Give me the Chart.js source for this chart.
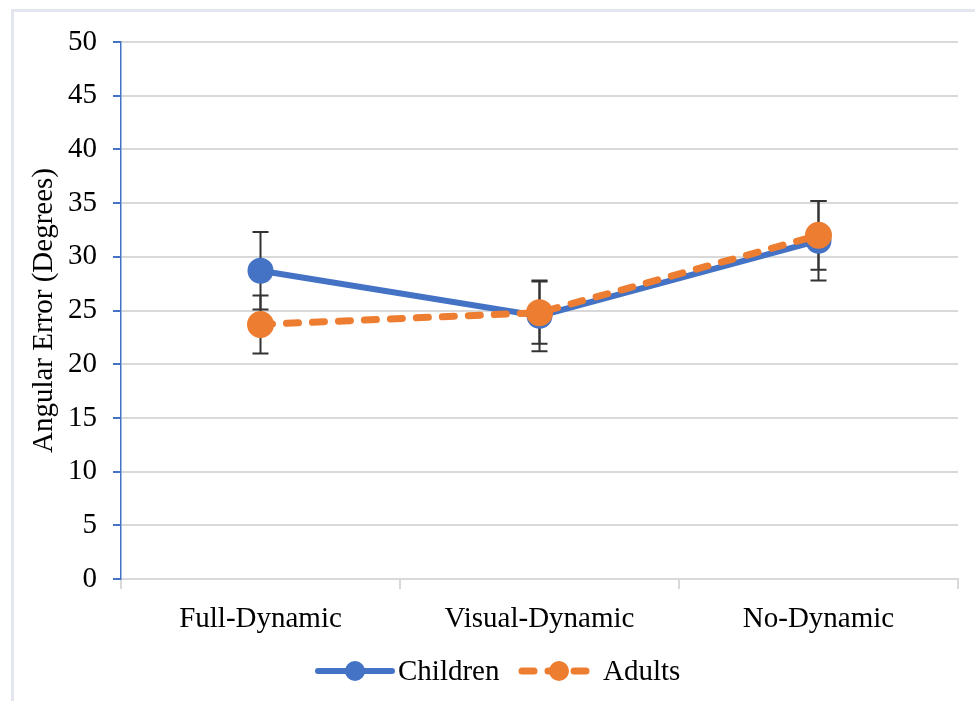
<!DOCTYPE html>
<html>
<head>
<meta charset="utf-8">
<script src="https://cdn.jsdelivr.net/npm/chart.js@4"></script>
<style>
    body { margin: 0; background: #fff; }
    #frame { position: absolute; left: 11px; top: 9px; width: 980px; height: 700px; border-top: 3px solid #e4e6ef; border-left: 3px solid #e4e6ef; }
    #wrap { position: absolute; left: 0; top: 0; width: 975px; height: 701px; }
</style>
</head>
<body>
<div id="frame"></div>
<div id="wrap"><canvas id="chart"></canvas></div>
<script>
// 数据
const categories = ['Full-Dynamic', 'Visual-Dynamic', 'No-Dynamic'];
const children = [28.7, 24.5, 31.5];
const childrenErr = [3.6, 3.3, 3.7];
const adults = [23.7, 24.8, 32.0];
const adultsErr = [2.7, 2.9, 3.2];
const yTicks = [0, 5, 10, 15, 20, 25, 30, 35, 40, 45, 50];

const serif = "'Liberation Serif', 'Times New Roman', serif";

// 误差线
const errorBars = {
    id: 'errorBars',
    beforeDatasetsDraw(chart) {
        const ctx = chart.ctx;
        const x = chart.scales.x, y = chart.scales.y;
        ctx.save();
        ctx.strokeStyle = '#333';
        ctx.lineWidth = 2;
        chart.data.datasets.forEach(ds => {
            ds.values.forEach((v, i) => {
                const px = x.getPixelForValue(i);
                const top = y.getPixelForValue(v + ds.err[i]);
                const bot = y.getPixelForValue(v - ds.err[i]);
                ctx.beginPath();
                ctx.moveTo(px, top); ctx.lineTo(px, bot);
                ctx.moveTo(px - 8, top); ctx.lineTo(px + 8, top);
                ctx.moveTo(px - 8, bot); ctx.lineTo(px + 8, bot);
                ctx.stroke();
            });
        });
        ctx.restore();
    }
};

// 图例
const lineLegend = {
    id: 'lineLegend',
    afterDraw(chart) {
        const ctx = chart.ctx;
        const ly = chart.chartArea.bottom + 92;
        const items = [
            { ds: chart.data.datasets[0], x: 318, text: 398 },
            { ds: chart.data.datasets[1], x: 522, text: 603 }
        ];
        ctx.save();
        items.forEach(it => {
            const ds = it.ds;
            ctx.strokeStyle = ds.borderColor;
            ctx.lineWidth = ds.borderWidth;
            ctx.setLineDash(ds.borderDash || []);
            ctx.lineCap = 'round';
            ctx.beginPath();
            ctx.moveTo(it.x, ly); ctx.lineTo(it.x + 74, ly);
            ctx.stroke();
            ctx.setLineDash([]);
            ctx.fillStyle = ds.pointBackgroundColor;
            ctx.beginPath();
            ctx.arc(it.x + 37, ly, 10, 0, Math.PI * 2);
            ctx.fill();
            ctx.fillStyle = '#000';
            ctx.font = '29px ' + serif;
            ctx.textBaseline = 'middle';
            ctx.fillText(ds.label, it.text, ly + 1);
        });
        ctx.restore();
    }
};

new Chart(document.getElementById('chart'), {
    type: 'line',
    data: {
        labels: categories,
        datasets: [
            {
                label: 'Children', data: children, values: children, err: childrenErr,
                borderColor: '#4472c4', backgroundColor: '#4472c4',
                pointBackgroundColor: '#4472c4', pointBorderColor: '#4472c4',
                borderWidth: 6, pointRadius: 10, pointHoverRadius: 10, order: 2
            },
            {
                label: 'Adults', data: adults, values: adults, err: adultsErr,
                borderColor: '#ed7d31', backgroundColor: '#ed7d31',
                pointBackgroundColor: '#ed7d31', pointBorderColor: '#ed7d31',
                borderWidth: 7, borderDash: [12, 14], borderCapStyle: 'round',
                pointRadius: 10, pointHoverRadius: 10, order: 1
            }
        ]
    },
    options: {
        responsive: true,
        maintainAspectRatio: false,
        animation: false,
        layout: { padding: { top: 42, right: 17, bottom: 62, left: 0 } },
        plugins: {
            legend: { display: false },
            tooltip: { enabled: false }
        },
        scales: {
            x: {
                offset: true,
                grid: { display: true, drawOnChartArea: false, offset: true, color: '#d9d9d9', lineWidth: 2, tickLength: 10 },
                border: { color: '#d9d9d9', width: 2 },
                ticks: { color: '#000', font: { family: serif, size: 29 }, padding: 13, maxRotation: 0 },
                afterFit(scale) { scale.height = 60; }
            },
            y: {
                min: 0, max: 50,
                afterBuildTicks(scale) { scale.ticks = yTicks.map(v => ({ value: v })); },
                grid: { color: '#d9d9d9', lineWidth: 2, tickColor: '#4472c4', tickLength: 8 },
                border: { color: '#4472c4', width: 1.5 },
                ticks: { color: '#000', font: { family: serif, size: 29 }, padding: 16 },
                title: {
                    display: true, text: 'Angular Error (Degrees)', color: '#000',
                    font: { family: serif, size: 29, lineHeight: 1.2 },
                    padding: { top: 27, bottom: 0 }
                },
                afterFit(scale) { scale.width = 121; }
            }
        }
    },
    plugins: [errorBars, lineLegend]
});
</script>
</body>
</html>
